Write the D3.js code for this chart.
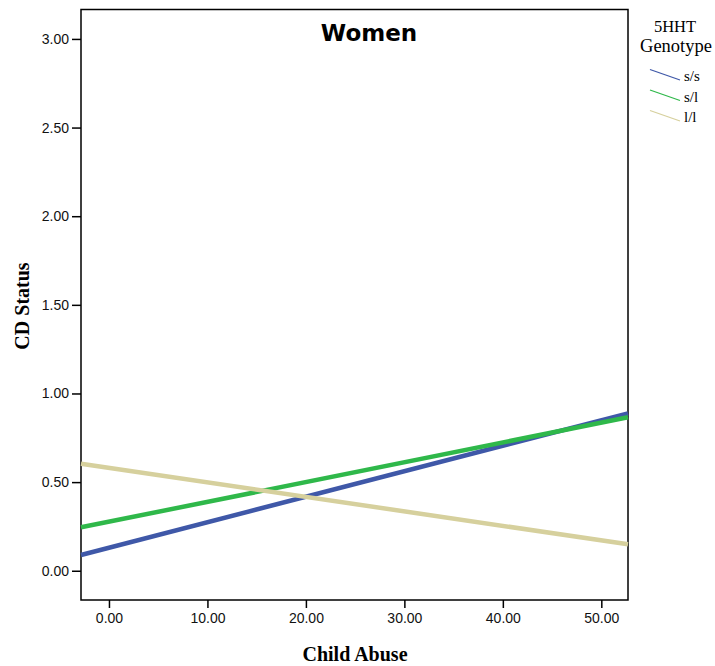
<!DOCTYPE html>
<html>
<head>
<meta charset="utf-8">
<script src="https://cdn.jsdelivr.net/npm/d3@7"></script>
<style>
  body { margin: 0; background: #fff; }
</style>
</head>
<body>
<div id="chart"></div>
<script>
// fitted lines, given by their value at the two ends of the x range
const xEnds = [-2.84, 52.71];
const genotypes = ["s/s", "s/l", "l/l"];
const ssValues = [0.089, 0.888];
const slValues = [0.245, 0.866];
const llValues = [0.604, 0.149];
const xTicks = [0, 10, 20, 30, 40, 50];
const yTicks = [0, 0.5, 1, 1.5, 2, 2.5, 3];

const width = 715, height = 666;
const plot = {left: 81, top: 9.5, right: 628, bottom: 600};

const colors = {"s/s": "#3f58a8", "s/l": "#2fb84a", "l/l": "#d6d09d"};
const series = [
  {name: "s/s", values: ssValues},
  {name: "s/l", values: slValues},
  {name: "l/l", values: llValues}
];

const x = d3.scaleLinear().domain(xEnds).range([plot.left, plot.right]);
const y = d3.scaleLinear().domain([-0.165, 3.166]).range([plot.bottom, plot.top]);

const svg = d3.select("#chart").append("svg")
  .attr("width", width)
  .attr("height", height);

// frame
svg.append("rect")
  .attr("x", plot.left).attr("y", plot.top)
  .attr("width", plot.right - plot.left)
  .attr("height", plot.bottom - plot.top)
  .attr("fill", "none").attr("stroke", "#000").attr("stroke-width", 1.5);

const yAxis = svg.append("g")
  .attr("transform", `translate(${plot.left},0)`)
  .call(d3.axisLeft(y).tickValues(yTicks).tickFormat(d3.format(".2f")).tickSize(9).tickPadding(3));
const xAxis = svg.append("g")
  .attr("transform", `translate(0,${plot.bottom})`)
  .call(d3.axisBottom(x).tickValues(xTicks).tickFormat(d3.format(".2f")).tickSize(8).tickPadding(5));

[xAxis, yAxis].forEach(a => {
  a.attr("font-size", 14).attr("font-family", "'Liberation Sans', Arial, sans-serif");
  a.select(".domain").remove();
  a.selectAll("line").attr("stroke", "#000").attr("stroke-width", 1.5);
  a.selectAll("text").attr("fill", "#111");
});

const line = d3.line()
  .x((d, i) => x(xEnds[i]))
  .y(d => y(d));

svg.append("g")
  .selectAll("path")
  .data(series)
  .join("path")
  .attr("d", d => line(d.values))
  .attr("fill", "none")
  .attr("stroke", d => colors[d.name])
  .attr("stroke-width", 4.5);

// title
svg.append("text")
  .attr("x", 369).attr("y", 41)
  .attr("text-anchor", "middle")
  .style("font", "bold 23px 'DejaVu Sans', Verdana, sans-serif")
  .text("Women");

// axis titles
svg.append("text")
  .attr("x", 355).attr("y", 661)
  .attr("text-anchor", "middle")
  .style("font", "bold 20px 'Liberation Serif', 'Times New Roman', serif")
  .text("Child Abuse");

svg.append("text")
  .attr("transform", "translate(29,306) rotate(-90)")
  .attr("text-anchor", "middle")
  .style("font", "bold 20px 'Liberation Serif', 'Times New Roman', serif")
  .text("CD Status");

// legend
const legend = svg.append("g");
legend.append("text")
  .attr("x", 675).attr("y", 32)
  .attr("text-anchor", "middle")
  .style("font", "16.5px 'Liberation Serif', 'Times New Roman', serif")
  .text("5HHT");
legend.append("text")
  .attr("x", 676).attr("y", 51.5)
  .attr("text-anchor", "middle")
  .style("font", "18.5px 'Liberation Serif', 'Times New Roman', serif")
  .text("Genotype");

const item = legend.selectAll("g.item")
  .data(genotypes)
  .join("g")
  .attr("class", "item")
  .attr("transform", (d, i) => `translate(0,${i * 20.5})`);
item.append("line")
  .attr("x1", 650).attr("y1", 69.5)
  .attr("x2", 680).attr("y2", 80)
  .attr("stroke", d => colors[d])
  .attr("stroke-width", 1.3);
item.append("text")
  .attr("x", 684).attr("y", 81)
  .style("font", "15px 'Liberation Serif', 'Times New Roman', serif")
  .text(d => d);
</script>
</body>
</html>
